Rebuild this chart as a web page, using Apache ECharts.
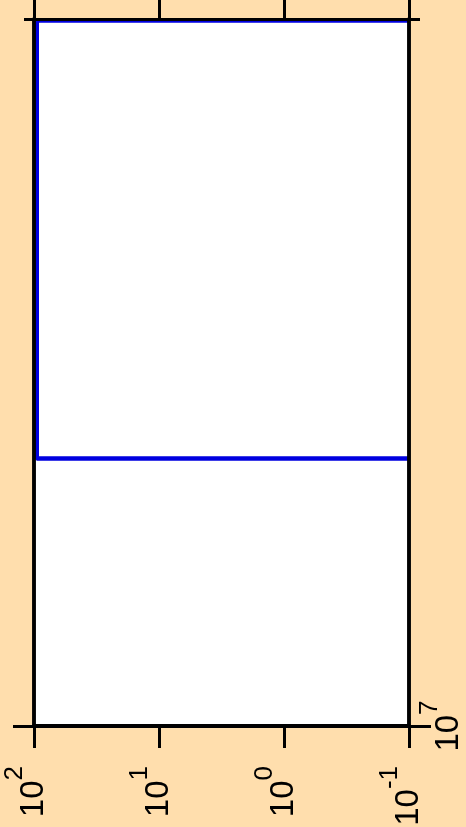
<!DOCTYPE html>
<html>
<head>
<meta charset="utf-8">
<script src="https://cdn.jsdelivr.net/npm/echarts@6/dist/echarts.min.js"></script>
<style>
  html, body { margin: 0; padding: 0; background: #ffdead; }
  #main { width: 466px; height: 827px; }
</style>
</head>
<body>
<div id="main"></div>
<script>
// tick values (log axes)
var xTicks = [100, 10, 1, 0.1];
var yMajor = [1e7];
var yMinor = [2e7];
// the blue step line
var lineX = [0.1, 95, 95, 0.1];
var lineY = [1.997e7, 1.997e7, 1.3e7, 1.3e7];

var chart = echarts.init(document.getElementById("main"));

function powLabel(v) {
  var e = Math.round(Math.log10(v));
  return "{b|10}{s|" + e + "}";
}
var rich = {
  b: { fontSize: 33, lineHeight: 64, fontFamily: "Liberation Sans", color: "#000" },
  s: { fontSize: 26, verticalAlign: "top", fontFamily: "Liberation Sans", color: "#000" }
};

function xAx(pos, withLabel, lw) {
  return {
    type: "log", position: pos, inverse: true, min: 0.1, max: 100, z: 3,
    axisLine: { show: true, lineStyle: { color: "#000", width: lw } },
    axisTick: { show: true, inside: false, length: 22, customValues: xTicks, lineStyle: { color: "#000", width: 3 } },
    axisLabel: withLabel ? { show: true, rotate: 90, margin: 40, customValues: xTicks, formatter: powLabel, rich: rich } : { show: false },
    splitLine: { show: false }
  };
}
function yAx(pos, ticks, len, withLabel) {
  return {
    type: "log", position: pos, min: 1e7, max: 2e7, z: 3,
    axisLine: { show: true, lineStyle: { color: "#000", width: 3.5 } },
    axisTick: { show: true, inside: false, length: len, customValues: ticks, lineStyle: { color: "#000", width: 3 } },
    axisLabel: withLabel ? { show: true, rotate: 90, margin: 8, customValues: ticks, formatter: powLabel, rich: rich } : { show: false },
    splitLine: { show: false }
  };
}

var option = {
  backgroundColor: "#ffdead",
  animation: false,
  grid: {
    left: 34, right: 57, top: 19, bottom: 101,
    show: true, backgroundColor: "#fff", borderWidth: 0,
    outerBoundsMode: "none"
  },
  xAxis: [xAx("bottom", true, 4), xAx("top", false, 3)],
  yAxis: [
    yAx("left", yMajor, 21, false),
    yAx("right", yMajor, 22, true),
    yAx("left", yMinor, 10, false),
    yAx("right", yMinor, 11, false)
  ],
  series: [
    {
      type: "line",
      xAxisIndex: 0,
      yAxisIndex: 0,
      z: 1,
      symbol: "none",
      silent: true,
      clip: true,
      lineStyle: { color: "#0000e0", width: 4.5 },
      data: lineX.map(function (x, i) { return [x, lineY[i]]; })
    }
  ]
};
chart.setOption(option);
</script>
</body>
</html>
